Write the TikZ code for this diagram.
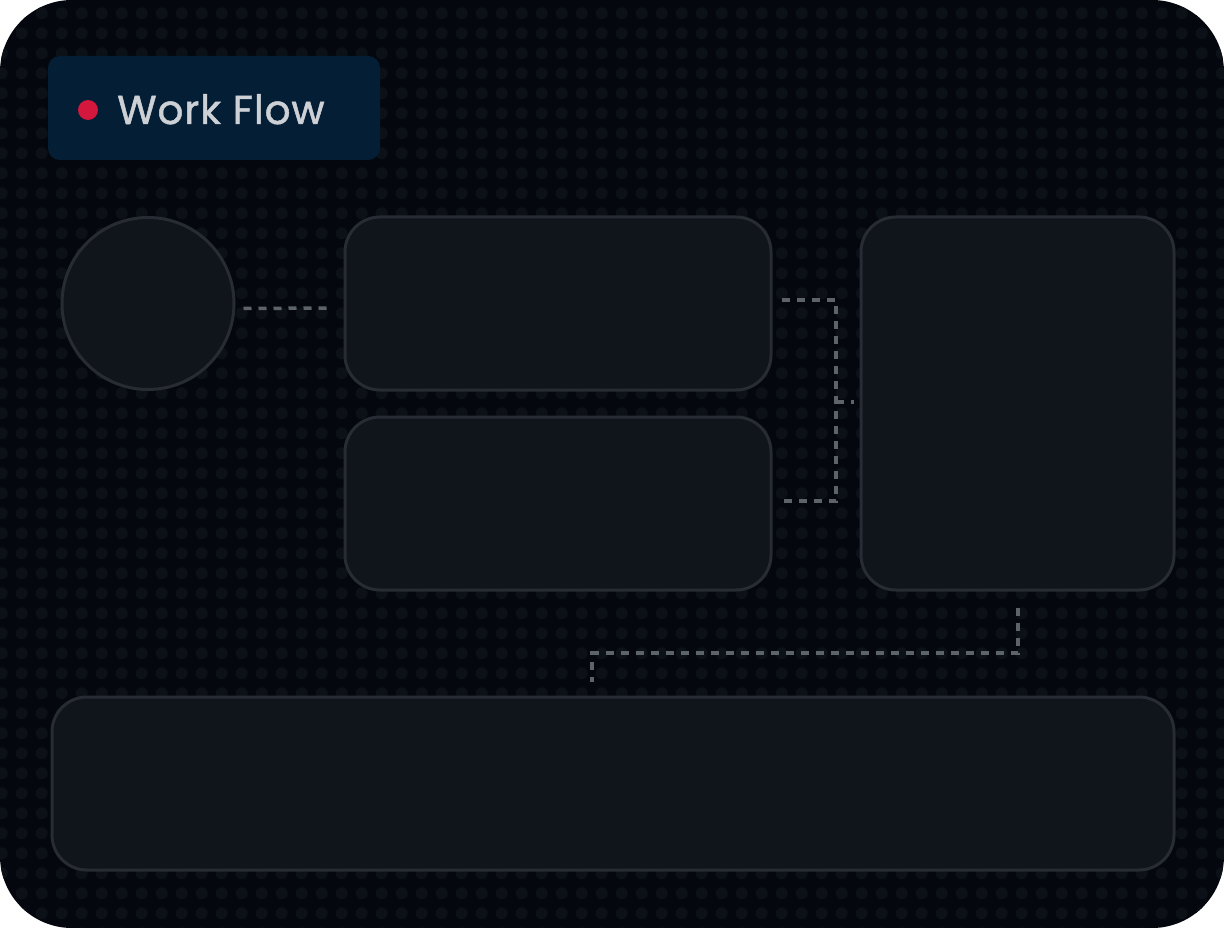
\documentclass[tikz,border=0pt]{standalone}
\usepackage{fontspec}
\setmainfont{Poppins}[FakeBold=1.2, LetterSpace=2]
\usetikzlibrary{calc}
\definecolor{bgc}{HTML}{04080E}
\definecolor{dotc}{HTML}{0C1117}
\definecolor{boxfill}{HTML}{10151C}
\definecolor{boxline}{HTML}{272C34}
\definecolor{tagfill}{HTML}{041E36}
\definecolor{redc}{HTML}{D4183D}
\definecolor{txtc}{HTML}{CDD1D6}
\definecolor{linec}{HTML}{5C636B}
\tikzset{
  card/.style={draw=boxline, fill=boxfill, line width=3pt, rounded corners=35pt, inner sep=0pt},
  conn/.style={draw=linec, line width=3.5pt, dash pattern=on 8pt off 7pt},
}
\begin{document}
\begin{tikzpicture}[x=1pt,y=-1pt]
\useasboundingbox (0,0) rectangle (1224,928);
\fill[white] (0,0) rectangle (1224,928);
\fill[bgc, rounded corners=72pt] (0,0) rectangle (1224,928);
\begin{scope}
\clip[rounded corners=72pt] (0,0) rectangle (1224,928);
\foreach \i in {0,...,61}{
  \foreach \j in {0,...,46}{
    \fill[dotc] (1.7+20*\i,13.3+20*\j) circle (6pt);
  }
}
\end{scope}
% title tag
\node[fill=tagfill, rounded corners=12pt, minimum width=332pt, minimum height=104pt, inner sep=0pt] (tag) at (214,108) {};
\fill[redc] (88,110) circle (10pt);
\node[anchor=base west, inner sep=0pt, text=txtc, font=\fontsize{40.5}{44}\selectfont] (title) at (117,124) {Work Flow};
% shapes
\node[card, circle, rounded corners=0pt, minimum size=172pt] (c) at (148,303.5) {};
\node[card, minimum width=426pt, minimum height=173pt] (b1) at (558,303.5) {};
\node[card, minimum width=426pt, minimum height=173pt] (b2) at (558,503.5) {};
\node[card, minimum width=313pt, minimum height=373pt] (b3) at (1017.5,403.5) {};
\node[card, minimum width=1122pt, minimum height=173pt] (b4) at (613,783.5) {};
% connectors
\draw[conn] ([shift={(8,5)}]c.east) -- ([shift={(-14,4.5)}]b1.west);
\coordinate (j) at (836,402);
\draw[conn] ([shift={(9,-3.5)}]b1.east) -| (j) |- ([shift={(9,-2.5)}]b2.east);
\draw[conn] (j) -- ([shift={(-6,-1.5)}]b3.west);
\draw[conn] ([shift={(0.5,16)}]b3.south) |- (592,653) -- ([shift={(-21,-14)}]b4.north);
\end{tikzpicture}
\end{document}
